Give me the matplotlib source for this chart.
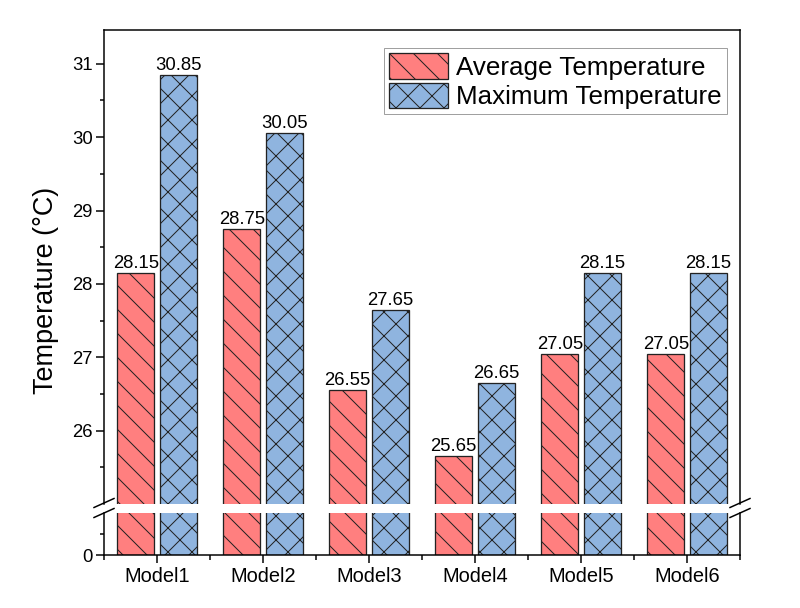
import matplotlib
matplotlib.use("Agg")
import matplotlib.pyplot as plt
from matplotlib.lines import Line2D
import numpy as np

models = ["Model1", "Model2", "Model3", "Model4", "Model5", "Model6"]
avg_temp = [28.15, 28.75, 26.55, 25.65, 27.05, 27.05]
max_temp = [30.85, 30.05, 27.65, 26.65, 28.15, 28.15]

plt.rcParams['font.family'] = ['Liberation Sans', 'DejaVu Sans']
plt.rcParams['hatch.linewidth'] = 1.0
plt.rcParams['hatch.color'] = '#222222'

W, H = 800, 608
fig = plt.figure(figsize=(W / 72, H / 72), dpi=72)

def fx(px):
    return px / W

def fy(py):
    return 1 - py / H

ax_top = fig.add_axes([fx(104), fy(504), fx(740) - fx(104), fy(30) - fy(504)])
ax_bot = fig.add_axes([fx(104), fy(555), fx(740) - fx(104), fy(513) - fy(555)])

x = np.arange(len(models))
w = 0.35
red = '#FF7F7F'
blue = '#8FB4DF'

for ax in (ax_top, ax_bot):
    b1 = ax.bar(x - 0.2, avg_temp, w, color=red, edgecolor='#222222', linewidth=1.3,
                hatch='\\', label='Average Temperature')
    b2 = ax.bar(x + 0.2, max_temp, w, color=blue, edgecolor='#222222', linewidth=1.3,
                hatch='x', label='Maximum Temperature')
    ax.set_xlim(-0.5, 5.5)
    for s in ax.spines.values():
        s.set_linewidth(1.5)
    ax.tick_params(axis='both', which='major', direction='out', length=8, width=1.5)
    ax.tick_params(axis='both', which='minor', direction='out', length=4.5, width=1.5)
    ax.tick_params(axis='y', labelsize=18.5)
    ax.tick_params(axis='x', labelsize=20)
    if ax is ax_top:
        ax.bar_label(b1, labels=[f"{v:.2f}" for v in avg_temp], padding=1, fontsize=18.5)
        ax.bar_label(b2, labels=[f"{v:.2f}" for v in max_temp], padding=1, fontsize=18.5)

ax_top.set_ylim(25, 31.46)
ax_top.set_yticks([26, 27, 28, 29, 30, 31])
ax_top.set_yticks(np.arange(25.5, 31.4, 0.5), minor=True)
ax_top.spines['bottom'].set_visible(False)
ax_top.tick_params(axis='x', which='both', bottom=False, labelbottom=False)

ax_bot.set_ylim(0, 1.0)
ax_bot.set_yticks([0])
ax_bot.set_yticks([0.5], minor=True)
ax_bot.spines['top'].set_visible(False)
ax_bot.set_xticks(x)
ax_bot.set_xticklabels(models)
ax_bot.set_xticks(np.arange(-0.5, 5.6, 1.0), minor=True)

fig.text(fx(46), fy(290), "Temperature (\u00b0C)", rotation=90, fontsize=27,
         ha='center', va='center')

# break marks
for xc in (104, 740):
    for yc in (503, 513):
        fig.add_artist(Line2D([fx(xc - 10), fx(xc + 10)], [fy(yc + 4.5), fy(yc - 4.5)],
                              color='black', lw=1.5, transform=fig.transFigure, clip_on=False))

leg = ax_top.legend(loc='upper right', bbox_to_anchor=(fx(727), fy(48)),
                    bbox_transform=fig.transFigure, fontsize=26, frameon=True,
                    fancybox=False, edgecolor='#888888', borderaxespad=0,
                    borderpad=0.2, handlelength=2.27, handleheight=1.15,
                    labelspacing=0.1, handletextpad=0.3)
leg.get_frame().set_linewidth(1.0)

fig.savefig("out.png", dpi=72)
